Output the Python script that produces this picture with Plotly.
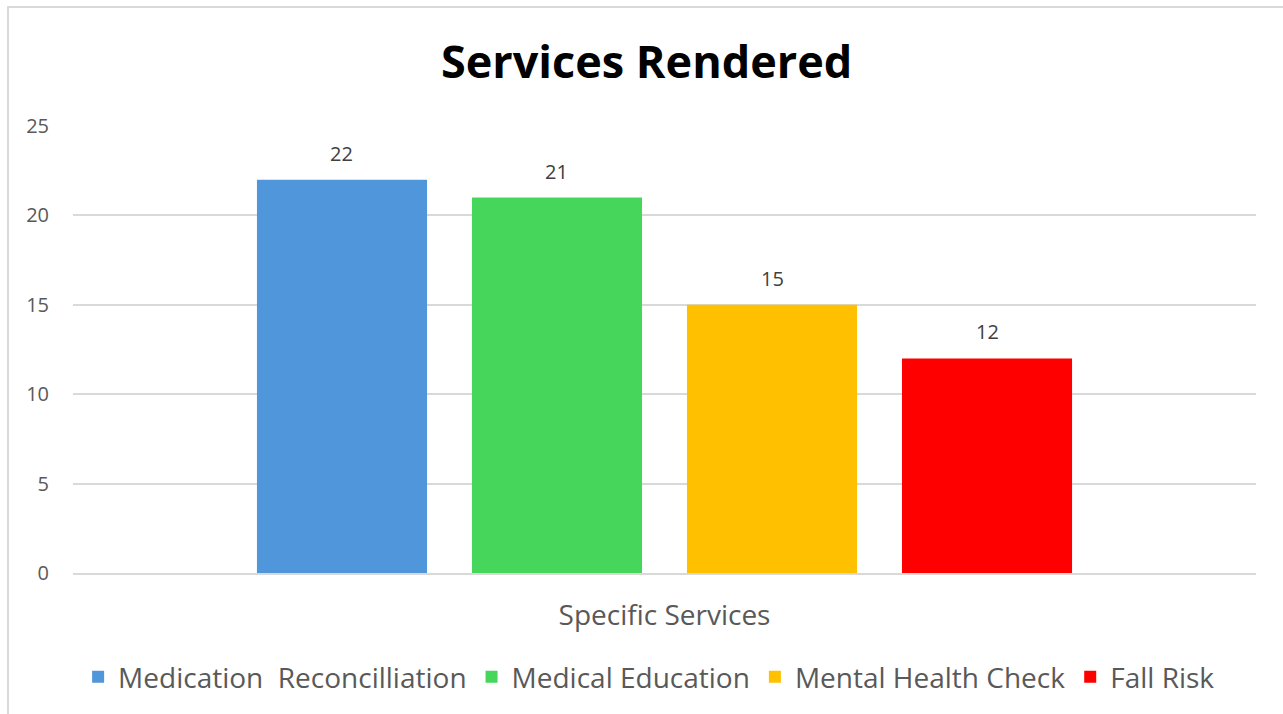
import plotly.graph_objects as go

categories = ["Specific Services"]
series_names = ["Medication  Reconcilliation", "Medical Education", "Mental Health Check", "Fall Risk"]
series_values = [22, 21, 15, 12]
series_colors = ["#5096DA", "#47D65C", "#FFC000", "#FF0000"]
y_ticks = [0, 5, 10, 15, 20, 25]

FONT = "Open Sans"
BARGAP = 0.273
BARGROUPGAP = 0.209

fig = go.Figure()
for name, val, col in zip(series_names, series_values, series_colors):
    fig.add_trace(go.Bar(
        x=categories, y=[val], name=name, marker=dict(color=col, line=dict(width=0)),
        hoverinfo="skip",
    ))

# value labels above each bar, positioned through the category axis scale
n = len(series_values)
slot = (1 - BARGAP) / n
annotations = []
for i, val in enumerate(series_values):
    annotations.append(dict(
        x=0 + (i - (n - 1) / 2) * slot, y=val, xref="x", yref="y",
        text=str(val), showarrow=False, yanchor="bottom", xanchor="center", yshift=11,
        font=dict(family=FONT, size=20, color="#404040"),
    ))

fig.update_layout(
    width=1283, height=714,
    margin=dict(l=73, r=27, t=126, b=141),
    paper_bgcolor="white", plot_bgcolor="white",
    barmode="group", bargap=BARGAP, bargroupgap=BARGROUPGAP,
    title=dict(text="<b>Services Rendered</b>", x=0.504, xanchor="center", y=0.913, yanchor="middle",
               font=dict(family=FONT, size=45, color="#000000")),
    showlegend=True,
    legend=dict(orientation="h", x=0.487, xanchor="center", y=-0.233, yanchor="middle",
                font=dict(family=FONT, size=28, color="#595959"), itemwidth=30,
                traceorder="normal"),
    font=dict(family=FONT, color="#595959"),
    xaxis=dict(showgrid=False, showline=True, linecolor="#D9D9D9", linewidth=2,
               tickfont=dict(family=FONT, size=28, color="#595959"), ticks="",
               ticklabelstandoff=16),
    yaxis=dict(range=[0, 25], tickvals=y_ticks, showgrid=True, gridcolor="#D9D9D9", gridwidth=1.5,
               zeroline=False, showline=False, ticks="",
               tickfont=dict(family=FONT, size=20, color="#595959"), ticklabelstandoff=23),
    annotations=annotations,
    shapes=[dict(type="rect", xref="paper", yref="paper", x0=(8-73)/1183, x1=1.2,
                 y0=-0.6, y1=(573-7)/447, line=dict(color="#D9D9D9", width=2), layer="below")],
)
fig.write_html("out.html")
